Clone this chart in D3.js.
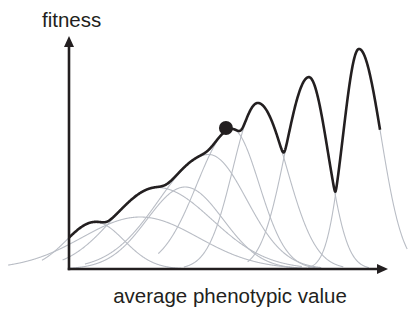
<!DOCTYPE html>
<html>
<head>
<meta charset="utf-8">
<script src="https://cdn.jsdelivr.net/npm/d3@7"></script>
<style>
  body { margin: 0; background: #fff; }
  text { font-family: "Liberation Sans", Arial, sans-serif; fill: #231f20; }
</style>
</head>
<body>
<div id="chart"></div>
<script>
// local fitness peaks (x = average phenotypic value, y = fitness)
const peakCenters = [2.23, 0.82, 2.76, 3.64, 4.38, 5.11, 5.92, 7.52, 9.09];
const peakHeights = [2.27, 2.05, 3.56, 3.58, 5.00, 6.11, 7.25, 8.38, 9.61];
const spreadLeft  = [1.82, 0.91, 1.41, 1.19, 1.55, 1.10, 0.78, 0.75, 0.50];
const spreadRight = [1.82, 0.91, 1.72, 1.19, 1.19, 0.85, 0.91, 0.60, 0.69];
const curveFrom   = [-1.91, -0.85, -0.20, 0.00, 0.50, 2.80, 3.60, 5.60, 7.50];
const curveTo     = [8.18, 5.30, 7.30, 7.00, 7.90, 8.30, 8.60, 9.40, 10.60];

const landscapeFrom = 0;
const landscapeTo = 9.75;
const dotPosition = 4.92;

const xLabel = "average phenotypic value";
const yLabel = "fitness";

const width = 408, height = 310;
const margin = { top: 40, right: 20, bottom: 41, left: 69 };

const svg = d3.select("#chart").append("svg")
  .attr("width", width)
  .attr("height", height);

const x = d3.scaleLinear().domain([0, 10]).range([margin.left, 388]);
const y = d3.scaleLinear().domain([0, 10]).range([height - margin.bottom, margin.top]);

function peak(i, v) {
  const d = v - peakCenters[i];
  const s = d < 0 ? spreadLeft[i] : spreadRight[i];
  return peakHeights[i] * Math.exp(-d * d / (2 * s * s));
}

// smooth upper envelope of all peaks
function landscape(v) {
  const p = 14;
  let sum = 0;
  for (let i = 0; i < peakCenters.length; i++) sum += Math.pow(peak(i, v), p);
  return Math.pow(sum, 1 / p);
}

const line = d3.line()
  .x(d => x(d[0]))
  .y(d => y(d[1]));

const step = 0.01;

// gray peaks
peakCenters.forEach((c, i) => {
  const pts = d3.range(curveFrom[i], curveTo[i] + step / 2, step).map(v => [v, peak(i, v)]);
  svg.append("path")
    .attr("d", line(pts))
    .attr("fill", "none")
    .attr("stroke", "#b9bdc5")
    .attr("stroke-width", 1.1);
});

// fitness landscape
const env = d3.range(landscapeFrom, landscapeTo + step / 2, step).map(v => [v, landscape(v)]);
svg.append("path")
  .attr("d", line(env))
  .attr("fill", "none")
  .attr("stroke", "#231f20")
  .attr("stroke-width", 2.6)
  .attr("stroke-linejoin", "round");

svg.append("circle")
  .attr("cx", x(dotPosition))
  .attr("cy", y(landscape(dotPosition)) - 3)
  .attr("r", 7)
  .attr("fill", "#231f20");

// axes with arrow heads
const x0 = x(0), y0 = y(0);
svg.append("line")
  .attr("x1", x0).attr("y1", y0 + 1.2)
  .attr("x2", x0).attr("y2", 44)
  .attr("stroke", "#231f20").attr("stroke-width", 2.6);
svg.append("path")
  .attr("d", `M${x0},36 L${x0 - 5},47 L${x0 + 5},47 Z`)
  .attr("fill", "#231f20");

svg.append("line")
  .attr("x1", x0 - 1.2).attr("y1", y0)
  .attr("x2", 380).attr("y2", y0)
  .attr("stroke", "#231f20").attr("stroke-width", 2.6);
svg.append("path")
  .attr("d", `M388,${y0} L377,${y0 - 5} L377,${y0 + 5} Z`)
  .attr("fill", "#231f20");

svg.append("text")
  .attr("x", 42)
  .attr("y", 27)
  .attr("font-size", "20.5px")
  .text(yLabel);

svg.append("text")
  .attr("x", 230)
  .attr("y", 303)
  .attr("text-anchor", "middle")
  .attr("font-size", "20.5px")
  .text(xLabel);
</script>
</body>
</html>
